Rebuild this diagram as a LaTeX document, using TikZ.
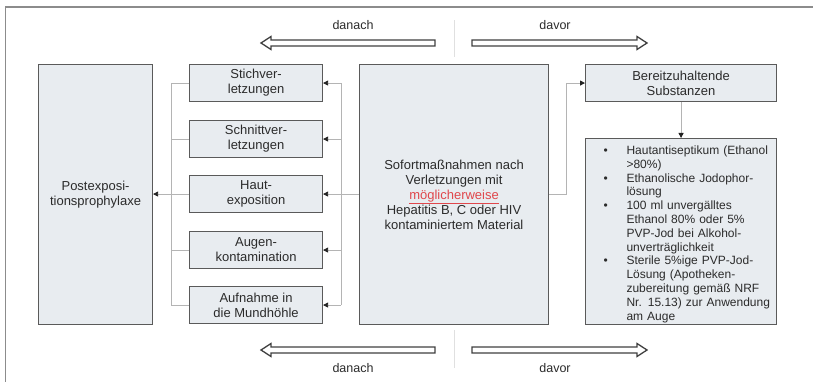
\documentclass[tikz,border=0pt]{standalone}
\usepackage{fontspec}
\setmainfont{Liberation Sans}
\usetikzlibrary{arrows.meta}
\definecolor{boxfill}{HTML}{E8ECF0}
\definecolor{boxdraw}{HTML}{5A5A5A}
\definecolor{txt}{HTML}{2B2B2B}
\definecolor{connc}{HTML}{B4B4B4}
\definecolor{tipc}{HTML}{222222}
\definecolor{redtxt}{HTML}{E0474C}
\begin{document}
\begin{tikzpicture}[x=1pt,y=-1pt,
 box/.style={draw=boxdraw, fill=boxfill, line width=1.1pt, anchor=north west, inner sep=0pt, align=center, text=txt, font=\fontsize{13}{15}\selectfont},
 smallbox/.style={box, minimum width=133pt, minimum height=37pt},
 conn/.style={draw=connc, line width=0.8pt},
 arr/.style={conn, -{Triangle[length=5pt,width=5pt,color=tipc]}},
 hollow/.style={draw=black!75, line width=1.3pt, fill=white, line join=miter},
 lbl/.style={text=txt, font=\fontsize{12.5}{14}\selectfont},
 sepline/.style={draw=black!12, line width=1pt}]
\useasboundingbox (0,0) rectangle (813,382);
\draw[draw=black!45, line width=1.5pt] (5.5,382) -- (5.5,7) -- (813,7);

% boxes
\node[box, minimum width=114pt, minimum height=260pt] (post) at (38,64) {Postexposi-\\tionsprophylaxe};
\node[smallbox] (stich) at (189,64) {Stichver-\\letzungen};
\node[smallbox] (schnitt) at (189,120) {Schnittver-\\letzungen};
\node[smallbox] (haut) at (189,175) {Haut-\\exposition};
\node[smallbox] (augen) at (189,231) {Augen-\\kontamination};
\node[smallbox] (aufn) at (189,286) {Aufnahme in\\die Mundhöhle};
\node[box, minimum width=189pt, minimum height=260pt] (sofort) at (359,64)
  {Sofortmaßnahmen nach\\Verletzungen mit\\\textcolor{redtxt}{\underline{möglicherweise}}\\Hepatitis B, C oder HIV\\kontaminiertem Material};
\node[box, minimum width=191pt, minimum height=37pt] (bereit) at (585,64) {Bereitzuhaltende\\Substanzen};
\node[box, minimum width=191pt, minimum height=186pt, text width=191pt, align=left, font=\fontsize{12}{13.8}\selectfont] (subst) at (585,138)
{\begin{list}{\textbullet\hfill}{\setlength\leftmargin{41pt}\setlength\labelwidth{23pt}\setlength\labelsep{0pt}\setlength\itemsep{0pt}\setlength\parsep{0pt}\setlength\topsep{0pt}\setlength\partopsep{0pt}}
\item Hautantiseptikum (Ethanol\\ >80\%)
\item Ethanolische Jodophor-\\lösung
\item 100 ml unvergälltes\\Ethanol 80\% oder 5\%\\PVP-Jod bei Alkohol-\\unverträglichkeit
\item Sterile 5\%ige PVP-Jod-\\Lösung (Apotheken-\\zubereitung gemäß NRF\\Nr. 15.13) zur Anwendung\\am Auge
\end{list}};

% connectors
\coordinate (rv) at (341,0);
\coordinate (lv) at (171,0);
\coordinate (rj) at (566,0);
\draw[conn] (sofort.west |- haut.east) -- (rv |- haut.east);
\draw[conn] (rv |- stich.east) -- (rv |- aufn.east);
\foreach \n in {stich,schnitt,haut,augen,aufn}{
  \draw[arr] (rv |- \n.east) -- (\n.east);
  \draw[conn] (\n.west) -- (lv |- \n.west);
}
\draw[conn] (lv |- stich.west) -- (lv |- aufn.west);
\draw[arr] (lv |- haut.west) -- (post.east |- haut.west);
\draw[arr] (sofort.east) -- (rj |- sofort.east) |- (bereit.west);
\draw[arr] (bereit.south) -- (subst.north);

% time arrows
\draw[hollow] (435,40) -- (271,40) -- (271,36.5) -- (261,43) -- (271,49.5) -- (271,46) -- (435,46) -- cycle;
\draw[hollow] (472,40) -- (637,40) -- (637,36.5) -- (647,43) -- (637,49.5) -- (637,46) -- (472,46) -- cycle;
\draw[hollow] (435,347) -- (271,347) -- (271,343.5) -- (261,350) -- (271,356.5) -- (271,353) -- (435,353) -- cycle;
\draw[hollow] (472,347) -- (637,347) -- (637,343.5) -- (647,350) -- (637,356.5) -- (637,353) -- (472,353) -- cycle;
\draw[sepline] (454,20) -- (454,57);
\draw[sepline] (454,330) -- (454,368);
\node[lbl] (danachT) at (353,25) {danach};
\node[lbl] (davorT) at (555,25) {davor};
\node[lbl] (danachB) at (353,368) {danach};
\node[lbl] (davorB) at (555,368) {davor};
\end{tikzpicture}
\end{document}
